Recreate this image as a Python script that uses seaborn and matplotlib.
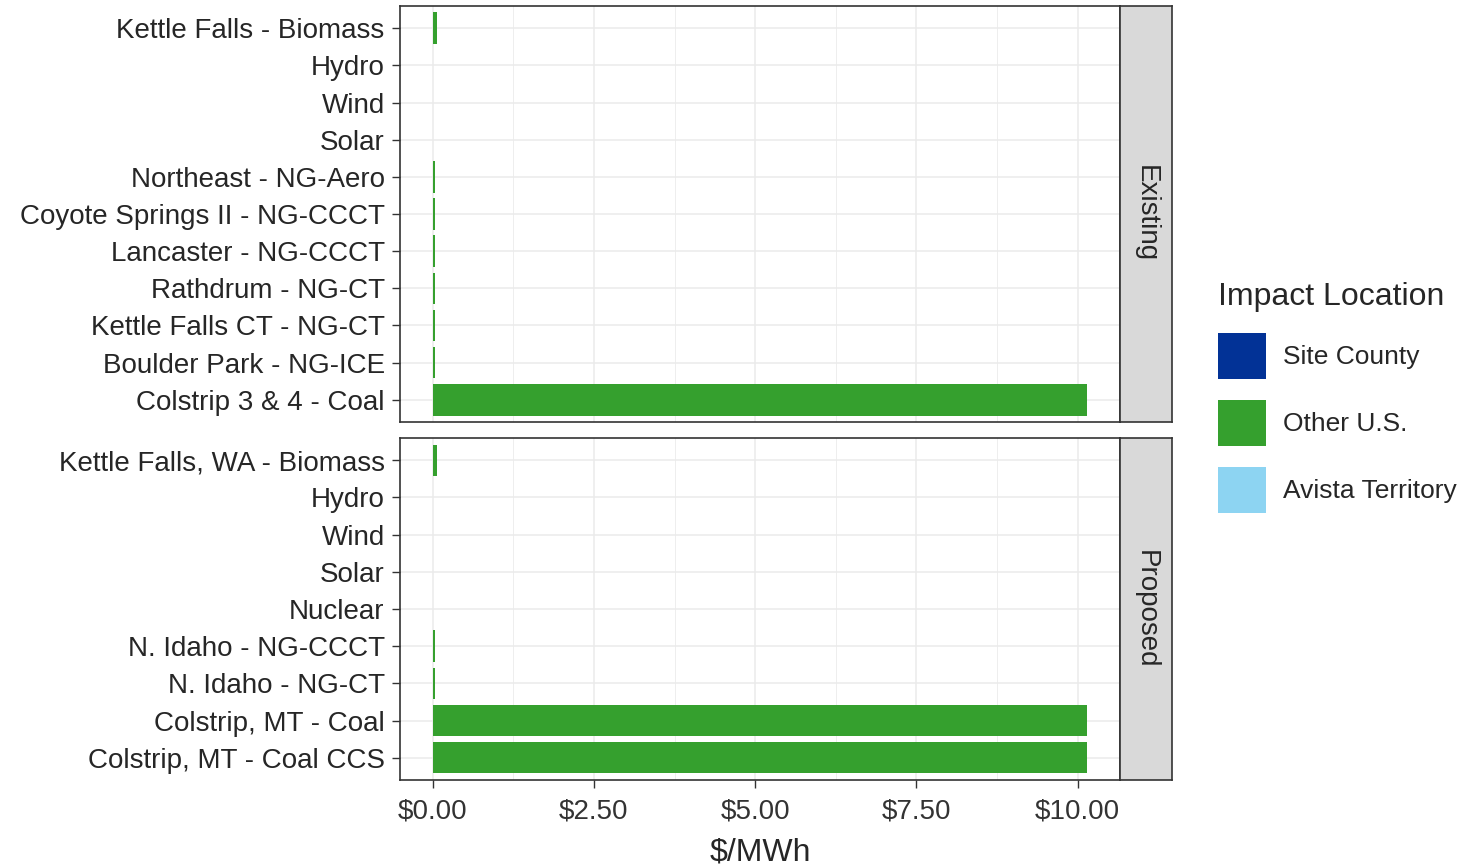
import numpy as np
import pandas as pd
import matplotlib
matplotlib.use("Agg")
import matplotlib.pyplot as plt
from matplotlib.patches import Patch
import seaborn as sns

# Data ($/MWh)
existing_plants = ["Kettle Falls - Biomass", "Hydro", "Wind", "Solar",
                   "Northeast - NG-Aero", "Coyote Springs II - NG-CCCT",
                   "Lancaster - NG-CCCT", "Rathdrum - NG-CT",
                   "Kettle Falls CT - NG-CT", "Boulder Park - NG-ICE",
                   "Colstrip 3 & 4 - Coal"]
existing_site_county = [0, 0, 0, 0, 0, 0, 0, 0, 0, 0, 0]
existing_other_us = [0.07, 0, 0, 0, 0.03, 0.03, 0.03, 0.03, 0.03, 0.03, 10.15]
existing_avista = [0, 0, 0, 0, 0, 0, 0, 0, 0, 0, 0]

proposed_plants = ["Kettle Falls, WA - Biomass", "Hydro", "Wind", "Solar",
                   "Nuclear", "N. Idaho - NG-CCCT", "N. Idaho - NG-CT",
                   "Colstrip, MT - Coal", "Colstrip, MT - Coal CCS"]
proposed_site_county = [0, 0, 0, 0, 0, 0, 0, 0, 0]
proposed_other_us = [0.07, 0, 0, 0, 0, 0.03, 0.03, 10.15, 10.15]
proposed_avista = [0, 0, 0, 0, 0, 0, 0, 0, 0]

locations = ["Site County", "Other U.S.", "Avista Territory"]
colors = {"Site County": "#023296", "Other U.S.": "#35A02E", "Avista Territory": "#8DD4F2"}

sns.set_theme(style="white")
plt.rcParams["font.family"] = ["Liberation Sans", "DejaVu Sans"]

fig = plt.figure(figsize=(14.66, 8.66), dpi=100)
W, H = 1466, 866

def box(x0, y0, x1, y1):
    return [x0 / W, 1 - y1 / H, (x1 - x0) / W, (y1 - y0) / H]

panels = [
    ("Existing", existing_plants, existing_site_county, existing_other_us, existing_avista, (6, 422)),
    ("Proposed", proposed_plants, proposed_site_county, proposed_other_us, proposed_avista, (438, 780)),
]

grid_col = "#EBEBEB"
text_col = "#262626"
for i, (name, plants, site, other, avista, (ytop, ybot)) in enumerate(panels):
    ax = fig.add_axes(box(400, ytop, 1120, ybot))
    df = pd.DataFrame({"Plant": plants, "Site County": site,
                       "Other U.S.": other, "Avista Territory": avista})
    # stacked: Avista nearest zero, then Other U.S., then Site County on the outside
    df["c_avista"] = df["Avista Territory"]
    df["c_other"] = df["c_avista"] + df["Other U.S."]
    df["c_site"] = df["c_other"] + df["Site County"]
    layers = [("c_site", "Site County"), ("c_other", "Other U.S."), ("c_avista", "Avista Territory")]
    for col, loc in layers:
        sub = df[df[loc] > 0]
        if sub.empty:
            continue
        sns.barplot(data=sub, y="Plant", x=col, order=plants, color=colors[loc],
                    width=0.85, saturation=1, ax=ax, zorder=3, linewidth=0)
    n = len(plants)
    ax.set_ylim(n - 1 + 0.6, -0.6)
    ax.set_xlim(-0.5075, 10.6575)
    ax.set_xticks([0, 2.5, 5, 7.5, 10])
    ax.set_xticks([1.25, 3.75, 6.25, 8.75], minor=True)
    ax.grid(True, which="major", color=grid_col, linewidth=1.1, zorder=0)
    ax.grid(True, which="minor", axis="x", color=grid_col, linewidth=0.6, zorder=0)
    ax.set_axisbelow(True)
    ax.set_ylabel("")
    ax.set_xlabel("")
    for s in ax.spines.values():
        s.set_color("#333333")
        s.set_linewidth(1.2)
    ax.tick_params(axis="y", length=6, width=1, color="#333333", labelsize=20,
                   labelcolor=text_col, left=True, pad=5)
    ax.tick_params(axis="x", which="minor", bottom=False)
    if i == 0:
        ax.tick_params(axis="x", bottom=False, labelbottom=False)
    else:
        ax.tick_params(axis="x", length=6, width=1, color="#333333", labelsize=20,
                       labelcolor="#333333", bottom=True, pad=7)
        ax.set_xticklabels(["\\$0.00", "\\$2.50", "\\$5.00", "\\$7.50", "\\$10.00"])
        ax.set_xlabel("\\$/MWh", fontsize=23, color=text_col, labelpad=10)

    # facet strip
    sax = fig.add_axes(box(1120, ytop, 1172, ybot))
    sax.set_xticks([])
    sax.set_yticks([])
    sax.set_facecolor("#D9D9D9")
    for s in sax.spines.values():
        s.set_color("#333333")
        s.set_linewidth(1.2)
    sax.text(0.5, 0.5, name, rotation=-90, ha="center", va="center",
             fontsize=20, color=text_col, transform=sax.transAxes)

handles = [Patch(facecolor=colors[l], edgecolor="none", label=l) for l in locations]
leg = fig.legend(handles=handles, title="Impact Location", loc="upper left",
                 bbox_to_anchor=(1218 / W, 1 - 282 / H), frameon=False,
                 fontsize=19, title_fontsize=23, handlelength=1.82, handleheight=2.3,
                 labelspacing=0.8, handletextpad=0.65, borderaxespad=0, borderpad=0)
leg._legend_box.align = "left"
for t in leg.get_texts():
    t.set_color(text_col)
leg.get_title().set_color(text_col)

fig.savefig("out.png", dpi=100)
